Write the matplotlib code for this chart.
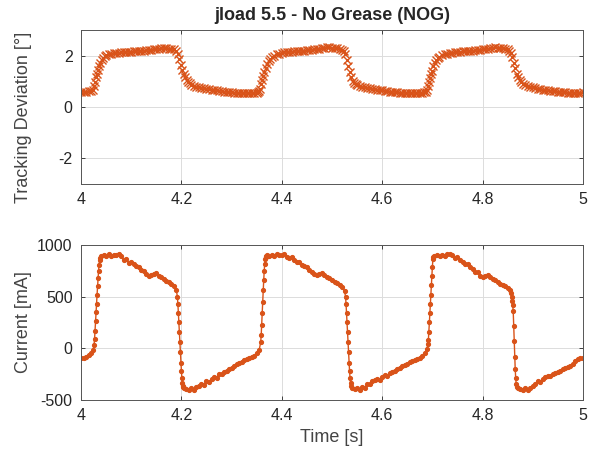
import matplotlib
matplotlib.use("Agg")
import matplotlib.pyplot as plt

# ---- tracking deviation [deg] vs time [s] ----
t_dev = [
    4.000, 4.005, 4.010, 4.015, 4.020, 4.023, 4.025, 4.027, 4.029, 4.031,
    4.033, 4.035, 4.038, 4.041, 4.044, 4.047,
    4.050, 4.055, 4.060, 4.065, 4.070, 4.075, 4.080, 4.085, 4.090, 4.095,
    4.100, 4.105, 4.110, 4.115, 4.120, 4.125, 4.130, 4.135, 4.140, 4.145,
    4.150, 4.155, 4.160, 4.165, 4.170, 4.175, 4.180, 4.185, 4.190,
    4.193, 4.196, 4.199, 4.202, 4.205, 4.208, 4.211, 4.214, 4.217, 4.220,
    4.225, 4.230, 4.235, 4.240, 4.245, 4.250, 4.255, 4.260, 4.265, 4.270,
    4.275, 4.280, 4.285, 4.290, 4.295, 4.300, 4.305, 4.310, 4.315, 4.320,
    4.325, 4.330, 4.335, 4.340, 4.345, 4.350,
    4.353, 4.355, 4.357, 4.359, 4.361, 4.363, 4.365, 4.368, 4.371, 4.374,
    4.377, 4.380, 4.385, 4.390, 4.395,
    4.400, 4.405, 4.410, 4.415, 4.420, 4.425, 4.430, 4.435, 4.440, 4.445,
    4.450, 4.455, 4.460, 4.465, 4.470, 4.475, 4.480, 4.485, 4.490, 4.495,
    4.500, 4.505, 4.510, 4.515, 4.520,
    4.523, 4.526, 4.529, 4.532, 4.535, 4.538, 4.541, 4.544, 4.547, 4.550,
    4.555, 4.560, 4.565, 4.570, 4.575, 4.580, 4.585, 4.590, 4.595, 4.600,
    4.605, 4.610, 4.615, 4.620, 4.625, 4.630, 4.635, 4.640, 4.645, 4.650,
    4.655, 4.660, 4.665, 4.670, 4.675, 4.680,
    4.684, 4.687, 4.689, 4.691, 4.693, 4.695, 4.697, 4.699, 4.702, 4.705,
    4.708, 4.711, 4.714, 4.720, 4.725,
    4.730, 4.735, 4.740, 4.745, 4.750, 4.755, 4.760, 4.765, 4.770, 4.775,
    4.780, 4.785, 4.790, 4.795, 4.800, 4.805, 4.810, 4.815, 4.820, 4.825,
    4.830, 4.835, 4.840, 4.845, 4.850,
    4.853, 4.856, 4.859, 4.862, 4.865, 4.868, 4.871, 4.874, 4.877, 4.880,
    4.885, 4.890, 4.895, 4.900, 4.905, 4.910, 4.915, 4.920, 4.925, 4.930,
    4.935, 4.940, 4.945, 4.950, 4.955, 4.960, 4.965, 4.970, 4.975, 4.980,
    4.985, 4.990, 4.995, 5.000,
]
deviation = [
    0.58, 0.60, 0.58, 0.61, 0.62, 0.68, 0.80, 0.98, 1.15, 1.30,
    1.45, 1.58, 1.72, 1.83, 1.92, 1.98,
    2.02, 2.05, 2.07, 2.09, 2.11, 2.12, 2.13, 2.14, 2.15, 2.15,
    2.16, 2.17, 2.18, 2.18, 2.19, 2.20, 2.21, 2.22, 2.22, 2.24,
    2.25, 2.27, 2.28, 2.29, 2.28, 2.27, 2.26, 2.25, 2.20,
    2.08, 1.88, 1.65, 1.45, 1.28, 1.15, 1.05, 0.97, 0.92, 0.87,
    0.82, 0.79, 0.77, 0.75, 0.73, 0.71, 0.69, 0.68, 0.66, 0.65,
    0.63, 0.62, 0.60, 0.59, 0.58, 0.57, 0.56, 0.55, 0.55, 0.54,
    0.55, 0.55, 0.54, 0.55, 0.55, 0.56,
    0.58, 0.62, 0.70, 0.88, 1.05, 1.20, 1.35, 1.52, 1.66, 1.78,
    1.86, 1.93, 2.00, 2.05, 2.08,
    2.11, 2.13, 2.14, 2.15, 2.16, 2.17, 2.18, 2.19, 2.19, 2.20,
    2.21, 2.22, 2.23, 2.24, 2.25, 2.27, 2.29, 2.31, 2.33, 2.32,
    2.30, 2.29, 2.28, 2.26, 2.23,
    2.18, 2.05, 1.85, 1.60, 1.38, 1.15, 1.00, 0.93, 0.89, 0.86,
    0.82, 0.79, 0.77, 0.75, 0.73, 0.71, 0.69, 0.68, 0.66, 0.65,
    0.63, 0.62, 0.60, 0.59, 0.58, 0.57, 0.56, 0.55, 0.55, 0.54,
    0.54, 0.54, 0.55, 0.55, 0.55, 0.56,
    0.57, 0.60, 0.66, 0.80, 0.97, 1.13, 1.27, 1.40, 1.58, 1.72,
    1.83, 1.90, 1.96, 2.02, 2.05,
    2.08, 2.10, 2.12, 2.14, 2.15, 2.16, 2.17, 2.18, 2.19, 2.19,
    2.20, 2.21, 2.22, 2.23, 2.24, 2.25, 2.27, 2.29, 2.31, 2.32,
    2.31, 2.29, 2.28, 2.27, 2.24,
    2.20, 2.10, 1.93, 1.72, 1.50, 1.30, 1.15, 1.04, 0.96, 0.91,
    0.85, 0.81, 0.78, 0.76, 0.74, 0.72, 0.70, 0.68, 0.67, 0.65,
    0.64, 0.62, 0.61, 0.60, 0.59, 0.58, 0.57, 0.56, 0.56, 0.55,
    0.55, 0.56, 0.56, 0.57,
]

# ---- motor current [mA] vs time [s] ----
t_cur = [
    4.000, 4.005, 4.010, 4.015, 4.020, 4.024,
    4.026, 4.027, 4.028, 4.029, 4.030, 4.031, 4.032, 4.033, 4.034, 4.035,
    4.036, 4.037, 4.038, 4.040,
    4.045, 4.050, 4.055, 4.060, 4.065, 4.070, 4.075, 4.080, 4.085, 4.090,
    4.095, 4.100, 4.105, 4.110, 4.115, 4.120, 4.125, 4.130, 4.135, 4.140,
    4.145, 4.150, 4.155, 4.160, 4.165, 4.170, 4.175, 4.180, 4.185, 4.190,
    4.192, 4.193, 4.194, 4.195, 4.196, 4.197, 4.198, 4.199, 4.200, 4.201,
    4.202, 4.203, 4.204, 4.206,
    4.210, 4.215, 4.220, 4.225, 4.230, 4.235, 4.240, 4.245, 4.250, 4.255,
    4.260, 4.265, 4.270, 4.275, 4.280, 4.285, 4.290, 4.295, 4.300, 4.305,
    4.310, 4.315, 4.320, 4.325, 4.330, 4.335, 4.340, 4.345, 4.350, 4.355,
    4.358, 4.359, 4.360, 4.361, 4.362, 4.363, 4.364, 4.365, 4.366, 4.367,
    4.368, 4.369, 4.371,
    4.375, 4.380, 4.385, 4.390, 4.395, 4.400, 4.405, 4.410, 4.415, 4.420,
    4.425, 4.430, 4.435, 4.440, 4.445, 4.450, 4.455, 4.460, 4.465, 4.470,
    4.475, 4.480, 4.485, 4.490, 4.495, 4.500, 4.505, 4.510, 4.515, 4.520,
    4.525,
    4.527, 4.528, 4.529, 4.530, 4.531, 4.532, 4.533, 4.534, 4.535, 4.536,
    4.537, 4.538, 4.540,
    4.545, 4.550, 4.555, 4.560, 4.565, 4.570, 4.575, 4.580, 4.585, 4.590,
    4.595, 4.600, 4.605, 4.610, 4.615, 4.620, 4.625, 4.630, 4.635, 4.640,
    4.645, 4.650, 4.655, 4.660, 4.665, 4.670, 4.675, 4.680, 4.685,
    4.689, 4.691,
    4.692, 4.693, 4.694, 4.695, 4.696, 4.697, 4.698, 4.699, 4.700, 4.701,
    4.702, 4.704,
    4.710, 4.715, 4.720, 4.725, 4.730, 4.735, 4.740, 4.745, 4.750, 4.755,
    4.760, 4.765, 4.770, 4.775, 4.780, 4.785, 4.790, 4.795, 4.800, 4.805,
    4.810, 4.815, 4.820, 4.825, 4.830, 4.835, 4.840, 4.845, 4.850, 4.855,
    4.857, 4.858, 4.859, 4.860, 4.861, 4.862, 4.863, 4.864, 4.865, 4.866,
    4.867, 4.868, 4.870,
    4.875, 4.880, 4.885, 4.890, 4.895, 4.900, 4.905, 4.910, 4.915, 4.920,
    4.925, 4.930, 4.935, 4.940, 4.945, 4.950, 4.955, 4.960, 4.965, 4.970,
    4.975, 4.980, 4.985, 4.990, 4.995, 5.000,
]
current = [
    -95, -90, -80, -60, -45, -20,
    30, 90, 170, 260, 350, 430, 520, 600, 680, 750,
    810, 850, 875, 890,
    905, 895, 910, 890, 905, 900, 915, 895, 850, 860,
    830, 840, 815, 800, 790, 760, 745, 720, 700, 705,
    720, 725, 700, 690, 670, 650, 640, 620, 600, 560,
    500, 430, 340, 250, 160, 60, -40, -140, -220, -290,
    -335, -360, -375, -385,
    -390, -400, -380, -400, -375, -360, -350, -355, -320, -330,
    -300, -280, -285, -250, -250, -230, -220, -200, -190, -175,
    -150, -145, -130, -110, -100, -95, -80, -70, -45, -15,
    60, 130, 230, 340, 450, 560, 660, 750, 820, 865,
    885, 895, 900,
    895, 905, 890, 910, 900, 905, 915, 885, 870, 880,
    850, 835, 840, 810, 800, 785, 760, 740, 720, 705,
    715, 725, 710, 690, 680, 660, 645, 630, 610, 590,
    555,
    500, 430, 340, 250, 160, 60, -40, -140, -220, -290,
    -335, -365, -385,
    -395, -385, -400, -370, -380, -350, -345, -320, -310, -300,
    -305, -280, -260, -265, -240, -230, -220, -200, -190, -170,
    -160, -150, -130, -120, -110, -100, -95, -70, -45,
    -10, 40,
    80, 160, 250, 340, 430, 520, 610, 700, 790, 860,
    885, 895,
    900, 890, 905, 895, 910, 915, 900, 870, 880, 850,
    840, 820, 815, 790, 770, 740, 735, 700, 690, 700,
    710, 690, 670, 660, 640, 620, 610, 600, 580, 560,
    540, 500, 460, 420, 360, 220, 70, -80, -200, -290,
    -345, -370, -385,
    -395, -400, -385, -405, -380, -360, -350, -320, -330, -300,
    -280, -265, -270, -250, -240, -230, -215, -200, -195, -185,
    -170, -150, -125, -100, -95, -90,
]

assert len(t_dev) == len(deviation)
assert len(t_cur) == len(current)

x_ticks = [4, 4.2, 4.4, 4.6, 4.8, 5]
x_labels = ["4", "4.2", "4.4", "4.6", "4.8", "5"]
dev_ticks = [-2, 0, 2]
cur_ticks = [-500, 0, 500, 1000]

plt.rcParams["font.family"] = ["Liberation Sans", "DejaVu Sans"]
plt.rcParams["axes.unicode_minus"] = False

ORANGE = "#D95319"
INK = "#262626"

fig = plt.figure(figsize=(5.93, 4.55), dpi=100)
fig.patch.set_facecolor("white")

ax1 = fig.add_axes([0.1366, 0.5956, 0.8465, 0.3385])
ax2 = fig.add_axes([0.1366, 0.1209, 0.8465, 0.3407])


def style(ax):
    ax.set_xlim(4, 5)
    ax.set_xticks(x_ticks)
    ax.set_xticklabels(x_labels)
    ax.grid(True, color="#dcdcdc", linewidth=0.7)
    ax.set_axisbelow(True)
    ax.tick_params(direction="in", top=True, right=True, length=3,
                   width=0.6, colors=INK, labelsize=11.5, pad=6)
    for sp in ax.spines.values():
        sp.set_color("#555555")
        sp.set_linewidth(0.7)


ax1.plot(t_dev, deviation, linestyle="none", marker="x", markersize=5.5,
         markeredgewidth=1.0, color=ORANGE)
style(ax1)
ax1.set_ylim(-3, 3)
ax1.set_yticks(dev_ticks)
ax1.set_ylabel("Tracking Deviation [°]", fontsize=13, color="#444444")
ax1.yaxis.set_label_coords(-0.097, 0.43)
ax1.set_title("jload 5.5 - No Grease (NOG)", fontsize=13,
              fontweight="bold", color=INK, pad=7)

ax2.plot(t_cur, current, linestyle="-", linewidth=1.0, marker=".",
         markersize=5.5, color=ORANGE)
style(ax2)
ax2.set_ylim(-500, 1000)
ax2.set_yticks(cur_ticks)
ax2.set_ylabel("Current [mA]", fontsize=13, color="#444444")
ax2.yaxis.set_label_coords(-0.097, 0.5)
ax2.set_xlabel("Time [s]", fontsize=13, color="#444444", labelpad=4)

fig.savefig("out.png", dpi=100)
